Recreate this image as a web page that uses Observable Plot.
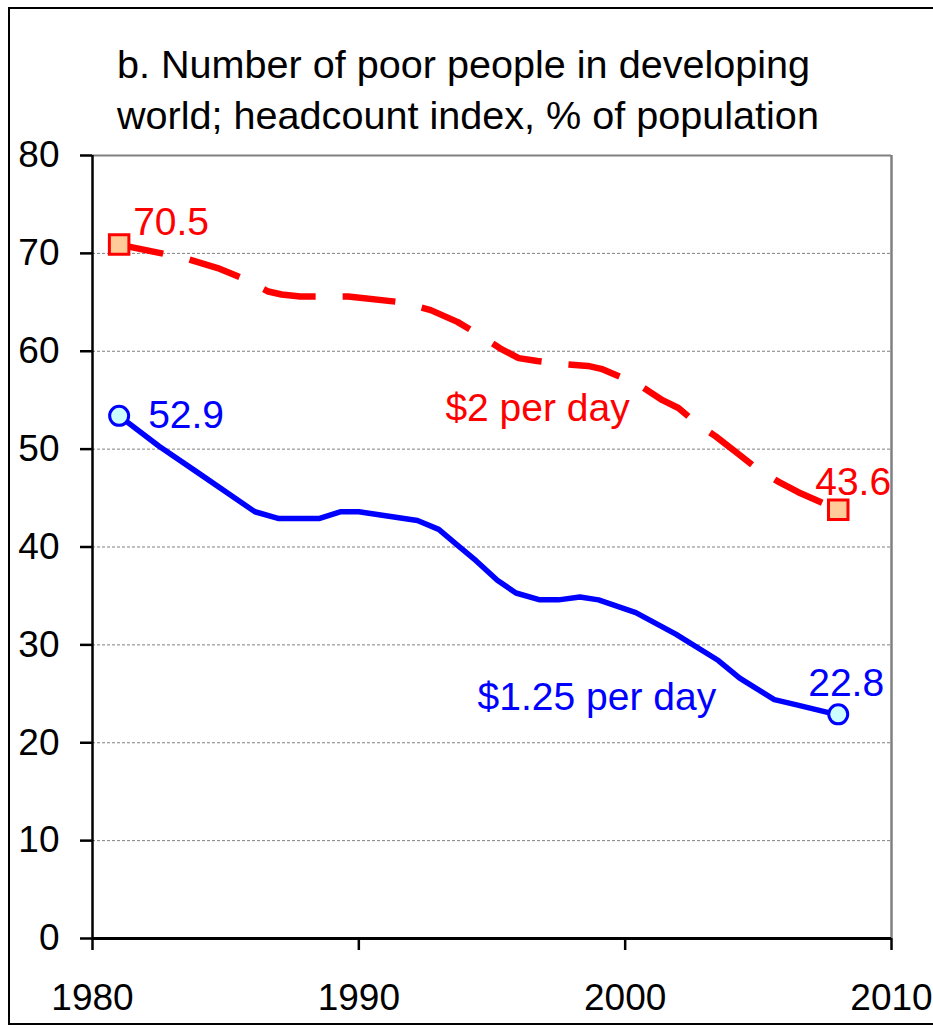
<!DOCTYPE html>
<html>
<head>
<meta charset="utf-8">
<script src="https://cdn.jsdelivr.net/npm/d3@7"></script>
<script src="https://cdn.jsdelivr.net/npm/@observablehq/plot@0.6"></script>
<style>
  html, body { margin: 0; padding: 0; background: #fff; overflow: hidden; }
  #wrap { position: relative; width: 933px; height: 1030px; overflow: hidden; font-family: "Liberation Sans", Arial, sans-serif; }
  #frame { position: absolute; left: 8px; top: 7px; width: 945px; height: 1018px; border: 2px solid #000; box-sizing: border-box; }
  #title { position: absolute; left: 117px; top: 39px; font-size: 39.6px; line-height: 51px; color: #000; white-space: nowrap; }
  #chart { position: absolute; left: 0; top: 140px; }
</style>
</head>
<body>
<div id="wrap">
  <div id="frame"></div>
  <div id="title">b. Number of poor people in developing<br>world; headcount index, % of population</div>
  <div id="chart"></div>
</div>
<script>
// ---- data ----
const years125 = [1981, 1982.5, 1983.9, 1986.1, 1987.0, 1988.5, 1989.3, 1990.0, 1992.2, 1993.0, 1993.7, 1994.4, 1995.2, 1995.9, 1996.8, 1997.5, 1998.3, 1999.0, 2000.4, 2001.9, 2003.5, 2004.3, 2005.6, 2006.4, 2007.6, 2008];
const pov125   = [53.4, 50.3, 47.7, 43.6, 42.9, 42.9, 43.6, 43.6, 42.7, 41.8, 40.2, 38.6, 36.6, 35.3, 34.6, 34.6, 34.9, 34.6, 33.3, 31.1, 28.4, 26.6, 24.4, 23.9, 23.1, 22.9];

const years2 = [1981, 1982.6, 1983.6, 1984.7, 1985.6, 1986.6, 1987.1, 1987.8, 1989.6, 1991.6, 1992.7, 1993.7, 1994.5, 1995.3, 1996.0, 1996.7, 1997.6, 1998.6, 1999.1, 2000.5, 2001.4, 2002.0, 2002.7, 2003.4, 2004.3, 2005.0, 2005.8, 2006.5, 2008];
const pov2   = [70.9, 70.0, 69.4, 68.5, 67.5, 66.1, 65.8, 65.6, 65.6, 65.0, 64.2, 63.0, 61.7, 60.3, 59.3, 59.0, 58.7, 58.5, 58.2, 56.6, 55.0, 54.2, 52.6, 51.3, 49.4, 47.9, 46.6, 45.6, 43.8];

const endLabels125 = ["52.9", "22.8"];
const endLabels2 = ["70.5", "43.6"];
const seriesNames = ["$2 per day", "$1.25 per day"];
const seriesLabelYear = [1993.25, 1994.46];
const seriesLabelValue = [54.1, 24.6];
const xTicks = [1980, 1990, 2000, 2010];
const yTicks = [0, 10, 20, 30, 40, 50, 60, 70, 80];

// ---- tables ----
const blue = years125.map((x, i) => ({x, y: pov125[i]}));
const red = years2.map((x, i) => ({x, y: pov2[i]}));
const blueEnds = [blue[0], blue[blue.length - 1]].map((d, i) => ({...d, label: endLabels125[i]}));
const redEnds = [red[0], red[red.length - 1]].map((d, i) => ({...d, label: endLabels2[i]}));
const seriesLabels = seriesNames.map((t, i) => ({t, x: seriesLabelYear[i], y: seriesLabelValue[i]}));

const font = '"Liberation Sans", Arial, sans-serif';
const annSize = 39;

const chart = Plot.plot({
  width: 933,
  height: 890,
  marginTop: 15,
  marginBottom: 92,
  marginLeft: 92,
  marginRight: 42,
  style: {fontFamily: font, fontSize: "37px", color: "#000", background: "transparent", overflow: "visible"},
  x: {domain: [1980, 2010]},
  y: {domain: [0, 80]},
  marks: [
    Plot.ruleY(yTicks.filter(v => v > 0 && v < 80), {stroke: "#808080", strokeWidth: 1, strokeDasharray: "3,2"}),
    Plot.ruleY([80], {stroke: "#808080", strokeWidth: 2}),
    Plot.ruleX([2010], {stroke: "#808080", strokeWidth: 2.5}),
    Plot.line(red, {x: "x", y: "y", stroke: "#FF0000", strokeWidth: 6.5, strokeDasharray: "53,27", strokeDashoffset: 8, strokeLinecap: "butt", strokeLinejoin: "miter"}),
    Plot.line(blue, {x: "x", y: "y", stroke: "#0000FF", strokeWidth: 5.5, strokeLinejoin: "round"}),
    Plot.ruleX([1980], {stroke: "#000", strokeWidth: 2.5}),
    Plot.ruleY([0], {stroke: "#000", strokeWidth: 3}),
    Plot.axisY({ticks: yTicks, tickSize: 12, tickPadding: 21, strokeWidth: 2.5, fontSize: 37, tickFormat: d => String(d), label: null}),
    Plot.axisX({ticks: xTicks, tickSize: 12, tickPadding: 33, strokeWidth: 2.5, fontSize: 37, tickFormat: d => String(d), label: null}),
    Plot.dot(redEnds, {x: "x", y: "y", symbol: "square", r: 11, fill: "#FFCC99", stroke: "#FF0000", strokeWidth: 3}),
    Plot.dot(blueEnds, {x: "x", y: "y", symbol: "circle", r: 9.5, fill: "#CCFFFF", stroke: "#0000FF", strokeWidth: 3}),
    Plot.text([redEnds[0]], {x: "x", y: "y", text: "label", dx: 14, dy: -22, textAnchor: "start", fill: "#FF0000", fontSize: annSize}),
    Plot.text([redEnds[1]], {x: "x", y: "y", text: "label", dx: -23, dy: -27, textAnchor: "start", fill: "#FF0000", fontSize: annSize}),
    Plot.text([blueEnds[0]], {x: "x", y: "y", text: "label", dx: 29, dy: 0, textAnchor: "start", fill: "#0000FF", fontSize: annSize}),
    Plot.text([blueEnds[1]], {x: "x", y: "y", text: "label", dx: -30, dy: -31, textAnchor: "start", fill: "#0000FF", fontSize: annSize}),
    Plot.text([seriesLabels[0]], {x: "x", y: "y", text: "t", textAnchor: "start", fill: "#FF0000", fontSize: annSize}),
    Plot.text([seriesLabels[1]], {x: "x", y: "y", text: "t", textAnchor: "start", fill: "#0000FF", fontSize: annSize})
  ]
});
document.getElementById("chart").appendChild(chart);
</script>
</body>
</html>
